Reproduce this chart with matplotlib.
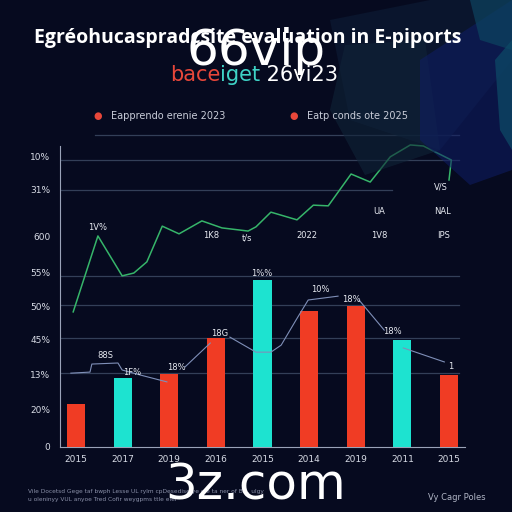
import numpy as np
import matplotlib
matplotlib.use("Agg")
import matplotlib.pyplot as plt
from matplotlib.patches import Polygon

# --- data ---
years = ["2015", "2017", "2019", "2016", "2015", "2014", "2019", "2011", "2015"]
bar_vals = [1.23, 1.97, 2.09, 3.11, 4.77, 3.89, 4.03, 3.06, 2.06]
bar_kind = ["r", "t", "r", "r", "t", "r", "r", "t", "r"]

ytick_vals = [0, 1.06, 2.06, 3.06, 4.0, 5.0, 6.0, 7.35, 8.3]
ytick_labels = ["0", "20%", "13%", "45%", "50%", "55%", "600", "31%", "10%"]

# green trend line (x in category units)
line_x = [-0.06, 0.47, 0.99, 1.24, 1.52, 1.85, 2.21, 2.70, 3.13, 3.69, 3.86,
          4.18, 4.74, 5.09, 5.41, 5.90, 6.31, 6.74, 7.17, 7.45, 8.05, 8.00]
line_y = [3.86, 6.03, 4.89, 4.97, 5.29, 6.31, 6.09, 6.46, 6.26, 6.17, 6.29,
          6.71, 6.49, 6.91, 6.89, 7.80, 7.57, 8.29, 8.63, 8.60, 8.20, 7.63]

# thin grey annotation line, nan = gap under a label
ann_x = [-0.11, 0.30, 0.34, 0.90, 0.99, 1.37, 1.95, np.nan, 2.34, 2.88, np.nan,
         3.30, 3.86, 4.18, 4.40, 4.72, 4.98, 5.62, np.nan, 6.07, 6.61, np.nan, 7.02, 7.90]
ann_y = [2.11, 2.14, 2.37, 2.40, 2.20, 2.06, 1.86, np.nan, 2.29, 2.97, np.nan,
         3.14, 2.71, 2.71, 2.91, 3.63, 4.20, 4.31, np.nan, 4.20, 3.34, np.nan, 2.83, 2.43]

labels = [("1V%", 0.47, 6.26), ("1K8", 2.90, 6.03), ("t/s", 3.67, 5.97),
          ("2022", 4.96, 6.03), ("UA", 6.50, 6.74), ("NAL", 7.85, 6.74),
          ("1V8", 6.50, 6.03), ("IPS", 7.88, 6.03), ("V/S", 7.83, 7.43),
          ("88S", 0.62, 2.60), ("1F%", 1.20, 2.14), ("18%", 2.15, 2.26),
          ("18G", 3.09, 3.23), ("1%%", 3.99, 4.97), ("10%", 5.24, 4.49),
          ("18%", 5.90, 4.20), ("18%", 6.78, 3.29), ("1", 8.03, 2.29)]

BG = "#060a1f"
RED = "#f03c24"
TEAL = "#1de3d0"

fig = plt.figure(figsize=(5.12, 5.12), dpi=100, facecolor=BG)

def px(x, y):
    return (x / 512, 1 - y / 512)

# decorative polygons, top right
deco = [
    ([(330, 20), (430, 0), (512, 0), (512, 60), (440, 150), (350, 120)], "#0c1a33", 0.7),
    ([(345, 45), (425, 40), (440, 150), (365, 175), (330, 110)], "#102438", 0.6),
    ([(420, 60), (512, 0), (512, 170), (470, 185), (420, 140)], "#0f1d66", 0.55),
    ([(470, 0), (512, 0), (512, 50), (480, 40)], "#0d4460", 0.7),
    ([(495, 60), (512, 40), (512, 150), (500, 130)], "#0d4c68", 0.7),
]
for pts, col, a in deco:
    fig.patches.append(Polygon([px(*p) for p in pts], closed=True, fc=col, ec="none",
                               alpha=a, transform=fig.transFigure, zorder=0))

ax = fig.add_axes([60 / 512, 65 / 512, 405 / 512, 315 / 512])
ax.set_facecolor("none")
ax.set_xlim(-0.343, 8.343)
ax.set_ylim(0, 9)

# gridlines
for yv, x0, x1 in [(8.91, 0.087, 0.985), (8.2, 0, 0.985), (7.35, 0, 0.82),
                   (4.89, 0, 0.985), (4.06, 0, 0.985), (3.11, 0, 0.985), (2.11, 0, 0.985)]:
    ax.axhline(yv, x0, x1, color="#333f58", lw=0.9, zorder=1)

x = np.arange(len(years))
colors = [RED if k == "r" else TEAL for k in bar_kind]
ax.bar(x, bar_vals, width=0.39, color=colors, zorder=3)

ax.plot(line_x, line_y, color="#36b56a", lw=1.1, zorder=4)
ax.plot(ann_x, ann_y, color="#7f8fb8", lw=0.8, zorder=4)

for txt, lx, ly in labels:
    ax.text(lx, ly, txt, color="#e6e9f0", fontsize=6, ha="center", va="center", zorder=5)

for s in ["top", "right"]:
    ax.spines[s].set_visible(False)
ax.spines["left"].set_color("#9aa3b8")
ax.spines["left"].set_bounds(0, 8.6)
ax.spines["bottom"].set_color("#9aa3b8")
ax.set_xticks(x)
ax.set_xticklabels(years)
ax.set_yticks(ytick_vals)
ax.set_yticklabels(ytick_labels)
ax.tick_params(colors="#d8dce6", labelsize=6.5, length=0)
ax.tick_params(axis="y", pad=7)
ax.tick_params(axis="x", pad=6)

# titles
fig.text(248 / 512, 1 - 38 / 512, "Egréohucaspradcsite evaluation in E-piports",
         color="white", fontsize=14, fontweight="bold", family="Open Sans",
         ha="center", va="center")
sub_y = 1 - 75 / 512
t1 = fig.text(170 / 512, sub_y, "bace", color="#e8473a", fontsize=15, va="center")
fig.canvas.draw()
bb = t1.get_window_extent()
t2 = fig.text(bb.x1 / 512, sub_y, "iget", color="#3fd3c6", fontsize=15, va="center")
fig.canvas.draw()
bb = t2.get_window_extent()
fig.text(bb.x1 / 512, sub_y, " 26vi23", color="white", fontsize=15, va="center")

# legend
for cx, lab in [(98, "Eapprendo erenie 2023"), (294, "Eatp conds ote 2025")]:
    fig.text(cx / 512, 1 - 116 / 512, "●", color="#e8473a", fontsize=7, ha="center", va="center")
    fig.text((cx + 13) / 512, 1 - 116 / 512, lab, color="#c8ccd8", fontsize=7, va="center")

# footer
fig.text(28 / 512, 1 - 492 / 512,
         "Vile Docetsd Gege taf bwph Lesse UL rylm cpDesedise ye oie ta ner of Bis. ulgy",
         color="#8a90a8", fontsize=4.2, va="center")
fig.text(28 / 512, 1 - 500 / 512,
         "u oleninyy VUL anyoe Tred Cofir weygpms ttle eiel",
         color="#8a90a8", fontsize=4.2, va="center")
fig.text(457 / 512, 1 - 497 / 512, "Vy Cagr Poles", color="#b0b5c5", fontsize=6,
         ha="center", va="center")

# watermarks
fig.text(256 / 512, 1 - 65 / 512, "66vip", color="white", fontsize=36, ha="center", va="baseline")
fig.text(256 / 512, 1 - 500 / 512, "3z.com", color="white", fontsize=36, ha="center", va="baseline")

fig.savefig("out.png", dpi=100, facecolor=BG)
